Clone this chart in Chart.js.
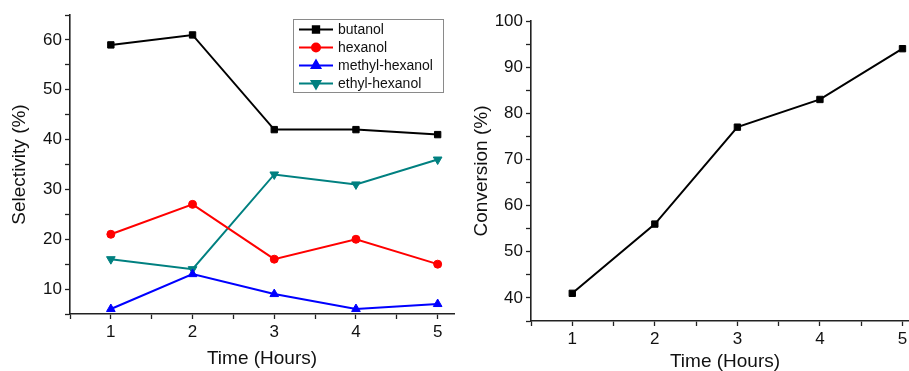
<!DOCTYPE html>
<html>
<head>
<meta charset="utf-8">
<script src="https://cdn.jsdelivr.net/npm/chart.js@4/dist/chart.umd.min.js"></script>
<style>
  html, body { margin: 0; padding: 0; background: #fff; width: 909px; height: 371px; overflow: hidden; }
  #wrap { position: relative; width: 909px; height: 371px; overflow: hidden; }
  #left { position: absolute; left: 0; top: 0; }
  #right { position: absolute; left: 460px; top: 0; }
</style>
</head>
<body>
<div id="wrap">
  <canvas id="left" width="460" height="371"></canvas>
  <canvas id="right" width="470" height="371"></canvas>
</div>
<script>
var hours = [1, 2, 3, 4, 5];
var xTicks = [0.5, 1, 1.5, 2, 2.5, 3, 3.5, 4, 4.5, 5];
var selTicks = [5, 10, 15, 20, 25, 30, 35, 40, 45, 50, 55, 60, 65];
var convTicks = [35, 40, 45, 50, 55, 60, 65, 70, 75, 80, 85, 90, 95, 100];
var seriesNames = ["butanol", "hexanol", "methyl-hexanol", "ethyl-hexanol"];
var butanol = [59, 61, 42, 42, 41];
var hexanol = [21, 27, 16, 20, 15];
var methylHexanol = [6, 13, 9, 6, 7];
var ethylHexanol = [16, 14, 33, 31, 36];
var conversion = [41, 56, 77, 83, 94];

var FONT = "'Liberation Sans', Arial, sans-serif";
var INK = "#111";

function toPoints(ys) {
    return hours.map(function(h, i) { return {x: h, y: ys[i]}; });
}

function makeSet(label, ys, color, style, radius, rotation) {
    return {
        label: label,
        data: toPoints(ys),
        borderColor: color,
        backgroundColor: color,
        borderWidth: 2,
        pointStyle: style,
        pointRadius: radius,
        pointRotation: rotation || 0,
        pointBorderWidth: 1,
        pointBorderColor: color,
        pointBackgroundColor: color,
        tension: 0
    };
}

// legend box drawn inside the plot, like the original figure
var boxLegend = {
    id: 'boxLegend',
    afterDraw: function(chart) {
        if (chart.canvas.id !== 'left') return;
        var ctx = chart.ctx;
        ctx.save();
        ctx.strokeStyle = '#8a8a8a';
        ctx.lineWidth = 1;
        ctx.strokeRect(293.5, 19.5, 150, 73);
        chart.data.datasets.forEach(function(ds, i) {
            var y = 29.5 + 18 * i;
            ctx.strokeStyle = ds.borderColor;
            ctx.lineWidth = 2;
            ctx.beginPath();
            ctx.moveTo(299, y);
            ctx.lineTo(333, y);
            ctx.stroke();
            ctx.fillStyle = ds.borderColor;
            Chart.helpers.drawPoint(ctx, {
                pointStyle: ds.pointStyle,
                radius: ds.pointRadius,
                rotation: ds.pointRotation,
                borderWidth: 1
            }, 316, y);
            ctx.fillStyle = INK;
            ctx.font = "14px " + FONT;
            ctx.textBaseline = 'middle';
            ctx.textAlign = 'left';
            ctx.fillText(ds.label, 338, y + 1);
        });
        ctx.restore();
    }
};

function create_chart(id, datasets, yTicks, yMax, yTitle, yWidth, xHeight, pad, yTitlePad, xTitlePad) {
    var ctx = document.getElementById(id).getContext('2d');
    return new Chart(ctx, {
        type: 'line',
        data: {datasets: datasets},
        options: {
            responsive: false,
            animation: false,
            layout: {padding: pad},
            plugins: {legend: {display: false}, tooltip: {enabled: false}},
            scales: {
                x: {
                    type: 'linear',
                    min: 0.5,
                    max: 5.2,
                    afterFit: function(s) { s.height = xHeight; },
                    afterBuildTicks: function(s) {
                        s.ticks = xTicks.map(function(v) { return {value: v}; });
                    },
                    ticks: {
                        autoSkip: false,
                        maxRotation: 0,
                        padding: 3,
                        color: INK,
                        font: {family: FONT, size: 17},
                        callback: function(v) { return Number.isInteger(v) ? v : ''; }
                    },
                    grid: {drawOnChartArea: false, tickLength: 5, tickColor: '#222', tickWidth: 1.3},
                    border: {color: '#222', width: 1.6},
                    title: {
                        display: true,
                        text: 'Time (Hours)',
                        color: INK,
                        font: {family: FONT, size: 19, lineHeight: 1},
                        padding: {top: 0, bottom: xTitlePad}
                    }
                },
                y: {
                    min: yTicks[0],
                    max: yMax,
                    afterFit: function(s) { s.width = yWidth; },
                    afterBuildTicks: function(s) {
                        s.ticks = yTicks.map(function(v) { return {value: v}; });
                    },
                    ticks: {
                        autoSkip: false,
                        padding: 3,
                        color: INK,
                        font: {family: FONT, size: 17},
                        callback: function(v) { return v % 10 === 0 ? v : ''; }
                    },
                    grid: {drawOnChartArea: false, tickLength: 5, tickColor: '#222', tickWidth: 1.3},
                    border: {color: '#222', width: 1.6},
                    title: {
                        display: true,
                        text: yTitle,
                        color: INK,
                        font: {family: FONT, size: 19, lineHeight: 1},
                        padding: {top: yTitlePad, bottom: 0}
                    }
                }
            }
        },
        plugins: [boxLegend]
    });
}

create_chart('left', [
    makeSet(seriesNames[0], butanol, '#000000', 'rect', 4.5, 0),
    makeSet(seriesNames[1], hexanol, '#ff0000', 'circle', 4, 0),
    makeSet(seriesNames[2], methylHexanol, '#0000ff', 'triangle', 5, 0),
    makeSet(seriesNames[3], ethylHexanol, '#008080', 'triangle', 5, 180)
], selTicks, 65, 'Selectivity (%)', 70, 57, {top: 15, left: 0, right: 4, bottom: 0}, 10, 3);

create_chart('right', [
    makeSet('conversion', conversion, '#000000', 'rect', 4.5, 0)
], convTicks, 100, 'Conversion (%)', 71, 50, {top: 21, left: 0, right: 11, bottom: 0}, 12, 0);
</script>
</body>
</html>
